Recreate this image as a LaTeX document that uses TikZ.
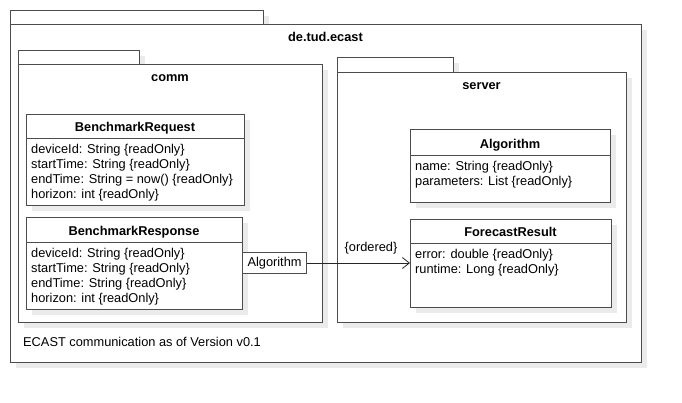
\documentclass[tikz,border=0pt]{standalone}
\usepackage{fontspec}
\setmainfont{Liberation Sans}
\usetikzlibrary{arrows.meta}
\usetikzlibrary{positioning}

\newcommand{\umlfont}{\fontsize{12.8pt}{15pt}\selectfont}

% package: name, x1, tab top, tab right, body top, x2, y2, title
\newcommand{\umlpackage}[8]{
    \fill[drop] (#2+6,#3+6) rectangle (#4+6,#5+6);
    \fill[drop] (#2+6,#5+6) rectangle (#6+6,#7+6);
    \draw[boxline, fill=white] (#2,#3) rectangle (#4,#5);
    \node[boxline, fill=white, outer sep=0pt, minimum width=#6-#2, minimum height=#7-#5, anchor=north west] (#1) at (#2,#5) {};
    \node[heading, anchor=base] (#1-title) at ({(#2+#6)/2},#5+17) {#8};
}

% class: name, x1, y1, x2, separator, y2, title, attributes
\newcommand{\umlclass}[8]{
    \fill[drop] (#2+6,#3+6) rectangle (#4+6,#6+6);
    \node[boxline, fill=white, outer sep=0pt, minimum width=#4-#2, minimum height=#6-#3, anchor=north west] (#1) at (#2,#3) {};
    \draw[boxline] (#2,#5) -- (#4,#5);
    \node[heading, anchor=base] (#1-title) at ({(#2+#4)/2},#5-7) {#7};
    \foreach \a [count=\i] in {#8}{
        \node[attr] (#1-a\i) at (#2+5,#5+15*\i) {\a};
    }
}

\begin{document}
\begin{tikzpicture}[x=1pt,y=-1pt,
        drop/.style={fill=black!8},
        boxline/.style={draw=black!70, line width=1pt, inner sep=0pt},
        heading/.style={font=\umlfont\bfseries, inner sep=0pt},
        attr/.style={font=\umlfont, inner sep=0pt, anchor=base west},
        assoc/.style={draw=black!85, line width=0.8pt, -{Straight Barb[length=7pt,width=11pt]}}]
    \useasboundingbox (0,0) rectangle (682,402);

    % packages
    \umlpackage{ecast}{10}{10}{263}{24}{641}{362}{de.tud.ecast}
    \umlpackage{comm}{18}{50}{139}{64}{322}{322}{comm}
    \umlpackage{server}{337}{57}{453}{72}{626}{322}{server}

    % comm classes
    \umlclass{req}{26}{114}{244}{138}{205}{BenchmarkRequest}
        {deviceId: String \{readOnly\}, startTime: String \{readOnly\},
         endTime: String = now() \{readOnly\}, horizon: int \{readOnly\}}
    \umlclass{resp}{26}{217}{242}{242}{309}{BenchmarkResponse}
        {deviceId: String \{readOnly\}, startTime: String \{readOnly\},
         endTime: String \{readOnly\}, horizon: int \{readOnly\}}

    % server classes
    \umlclass{alg}{410}{129}{610}{155}{202}{Algorithm}
        {name: String \{readOnly\}, parameters: List \{readOnly\}}
    \umlclass{fres}{410}{219}{611}{243}{307}{ForecastResult}
        {error: double \{readOnly\}, runtime: Long \{readOnly\}}

    % qualified association
    \node[boxline, fill=white, font=\umlfont, inner xsep=5pt, minimum height=21pt, anchor=north west] (qual) at (242,252) {Algorithm};
    \draw[assoc] (qual.east) -- (qual.east -| fres.west);
    \node[font=\umlfont, inner sep=0pt, anchor=base] (ord) at (371,251.7) {\{ordered\}};

    \node[attr] (note) at (23,346.7) {ECAST communication as of Version v0.1};
\end{tikzpicture}
\end{document}
